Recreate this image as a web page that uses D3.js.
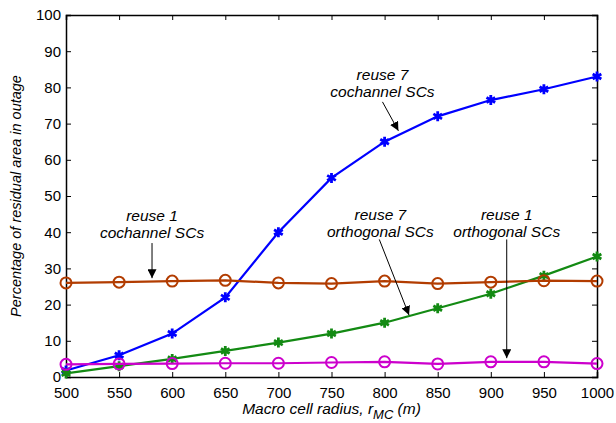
<!DOCTYPE html>
<html>
<head>
<meta charset="utf-8">
<script src="https://cdn.jsdelivr.net/npm/d3@7"></script>
<style>
  body { margin: 0; background: #fff; }
  svg { font-family: "Liberation Sans", Arial, sans-serif; }
  .axis text { font-size: 15px; fill: #000; }
  .axis path, .axis line { stroke: #000; }
  .note { font-size: 15.5px; font-style: italic; fill: #000; }
</style>
</head>
<body>
<svg width="616" height="423"></svg>
<script>
var radius = [500, 550, 600, 650, 700, 750, 800, 850, 900, 950, 1000];
var reuse7Cochannel = [1.8, 6, 12, 22, 40, 55, 65, 72, 76.5, 79.5, 83];
var reuse1Cochannel = [26, 26.2, 26.5, 26.7, 26, 25.8, 26.5, 25.8, 26.2, 26.6, 26.5];
var reuse7Orthogonal = [1, 3, 5, 7.2, 9.5, 12, 15, 19, 23, 28, 33.3];
var reuse1Orthogonal = [3.5, 3.6, 3.7, 3.8, 3.8, 4, 4.2, 3.6, 4.2, 4.2, 3.7];
var xTicks = [500, 550, 600, 650, 700, 750, 800, 850, 900, 950, 1000];
var yTicks = [0, 10, 20, 30, 40, 50, 60, 70, 80, 90, 100];

var margin = {top: 15, right: 19, bottom: 46, left: 66},
    width = 616 - margin.left - margin.right,
    height = 423 - margin.top - margin.bottom;

var x = d3.scaleLinear().domain([500, 1000]).range([0, width]);
var y = d3.scaleLinear().domain([0, 100]).range([height, 0]);

var svg = d3.select("svg")
  .append("g")
  .attr("transform", "translate(" + margin.left + "," + margin.top + ")");

// box ticks on top and right (pointing inward)
svg.append("g").attr("class", "axis")
  .call(d3.axisTop(x).tickValues(xTicks).tickSize(-5).tickFormat(""));
svg.append("g").attr("class", "axis")
  .attr("transform", "translate(" + width + ",0)")
  .call(d3.axisRight(y).tickValues(yTicks).tickSize(-5).tickFormat(""));

// bottom / left axes
svg.append("g").attr("class", "axis")
  .attr("transform", "translate(0," + height + ")")
  .call(d3.axisBottom(x).tickValues(xTicks).tickSize(-5).tickPadding(10).tickFormat(d3.format("d")));
svg.append("g").attr("class", "axis")
  .call(d3.axisLeft(y).tickValues(yTicks).tickSize(-5).tickPadding(5));

svg.selectAll(".axis .domain").attr("stroke-width", 1.5);

var series = [
  {name: "r7c", values: reuse7Cochannel, color: "#0000ff", marker: "star"},
  {name: "r7o", values: reuse7Orthogonal, color: "#138a13", marker: "star"},
  {name: "r1c", values: reuse1Cochannel, color: "#b23c00", marker: "circle"},
  {name: "r1o", values: reuse1Orthogonal, color: "#cc00cc", marker: "circle"}
];

var line = d3.line()
  .x(function(d, i) { return x(radius[i]); })
  .y(function(d) { return y(d); });

var star = d3.symbol().type(d3.symbolAsterisk).size(70);

series.forEach(function(s) {
  svg.append("path")
    .datum(s.values)
    .attr("fill", "none")
    .attr("stroke", s.color)
    .attr("stroke-width", 2.2)
    .attr("d", line);

  if (s.marker == "circle") {
    svg.selectAll(".m-" + s.name)
      .data(s.values)
      .enter().append("circle")
      .attr("class", "m-" + s.name)
      .attr("cx", function(d, i) { return x(radius[i]); })
      .attr("cy", function(d) { return y(d); })
      .attr("r", 5.5)
      .attr("fill", "none")
      .attr("stroke", s.color)
      .attr("stroke-width", 2);
  } else {
    svg.selectAll(".m-" + s.name)
      .data(s.values)
      .enter().append("path")
      .attr("class", "m-" + s.name)
      .attr("transform", function(d, i) { return "translate(" + x(radius[i]) + "," + y(d) + ")"; })
      .attr("d", star)
      .attr("fill", "none")
      .attr("stroke", s.color)
      .attr("stroke-width", 2.8);
  }
});

// arrow head marker
svg.append("defs").append("marker")
  .attr("id", "arrow")
  .attr("viewBox", "0 0 10 10")
  .attr("refX", 10).attr("refY", 5)
  .attr("markerWidth", 9).attr("markerHeight", 9)
  .attr("markerUnits", "userSpaceOnUse")
  .attr("orient", "auto")
  .append("path")
  .attr("d", "M0,0 L10,5 L0,10 z")
  .attr("fill", "#000");

// annotations (positions in data space)
var notes = [
  {lines: ["reuse 7", "cochannel SCs"], tx: 798, ty: 82, ax0: 798, ay0: 76, ax1: 813, ay1: 68},
  {lines: ["reuse 1", "cochannel SCs"], tx: 581, ty: 43, ax0: 581, ay0: 37, ax1: 581, ay1: 27.3},
  {lines: ["reuse 7", "orthogonal SCs"], tx: 796, ty: 43.5, ax0: 795, ay0: 38, ax1: 823, ay1: 17.1},
  {lines: ["reuse 1", "orthogonal SCs"], tx: 915, ty: 43.5, ax0: 915, ay0: 38, ax1: 915, ay1: 5.2}
];

notes.forEach(function(n) {
  var t = svg.append("text")
    .attr("class", "note")
    .attr("x", x(n.tx))
    .attr("y", y(n.ty))
    .style("text-anchor", "middle");
  n.lines.forEach(function(l, i) {
    t.append("tspan")
      .attr("x", x(n.tx))
      .attr("dy", i == 0 ? 0 : 17)
      .text(l);
  });
  svg.append("line")
    .attr("x1", x(n.ax0)).attr("y1", y(n.ay0))
    .attr("x2", x(n.ax1)).attr("y2", y(n.ay1))
    .attr("stroke", "#000")
    .attr("stroke-width", 1)
    .attr("marker-end", "url(#arrow)");
});

// X axis label
var xl = svg.append("text")
  .attr("x", width / 2)
  .attr("y", height + 37)
  .style("text-anchor", "middle")
  .style("font-size", "15.5px")
  .style("font-style", "italic");
xl.append("tspan").text("Macro cell radius, r");
xl.append("tspan").attr("dy", 5).style("font-size", "13px").text("MC");
xl.append("tspan").attr("dy", -5).text(" (m)");

// Y axis label
svg.append("text")
  .attr("transform", "rotate(-90)")
  .attr("x", -height / 2)
  .attr("y", -45)
  .style("text-anchor", "middle")
  .style("font-size", "14.5px")
  .style("font-style", "italic")
  .text("Percentage of residual area in outage");
</script>
</body>
</html>
